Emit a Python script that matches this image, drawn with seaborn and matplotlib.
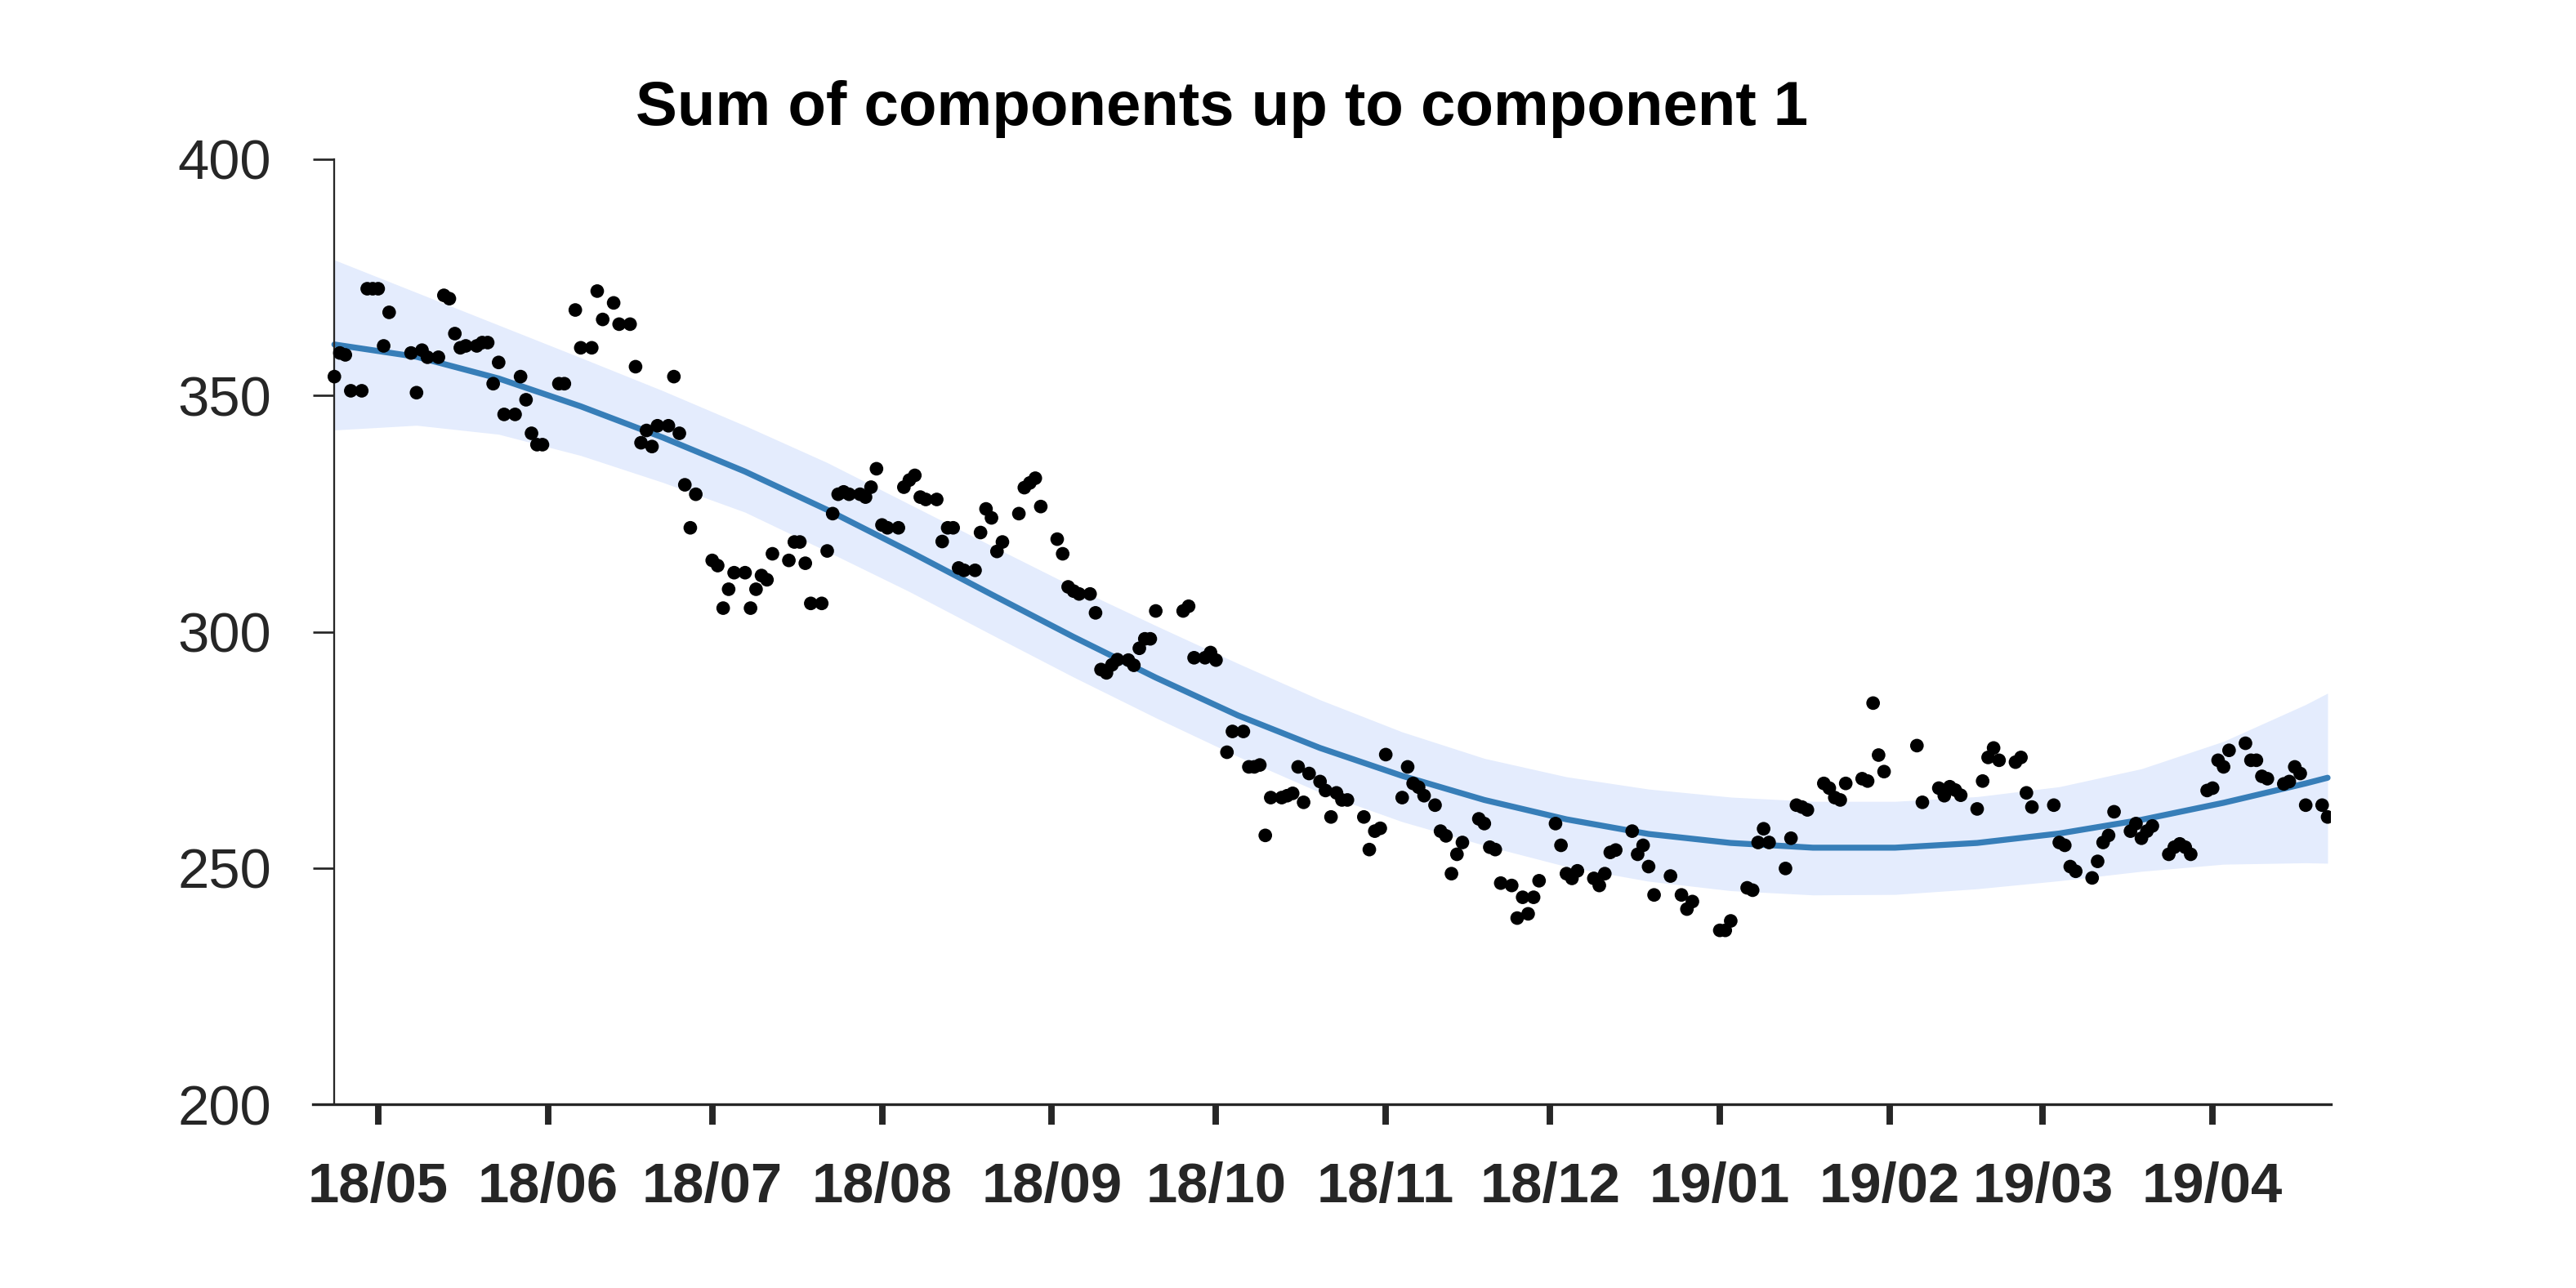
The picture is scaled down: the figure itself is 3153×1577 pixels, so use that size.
import numpy as np
import pandas as pd
import matplotlib
matplotlib.use("Agg")
import matplotlib.pyplot as plt
import matplotlib.dates as mdates
import seaborn as sns

# ---------------- data ----------------
START = "2018-04-23"
TITLE = "Sum of components up to component 1"

DAY_OFFSETS = [
    0, 1, 2, 3, 5, 6, 7, 8, 9, 10, 14, 15, 16, 17, 19, 20, 21, 22, 23, 24,
    26, 27, 28, 29, 30, 31, 33, 34, 35, 36, 37, 38, 41, 42, 44, 45, 47, 48, 49, 51,
    52, 54, 55, 56, 57, 58, 59, 61, 62, 63, 64, 65, 66, 69, 70, 71, 72, 73, 75, 76,
    77, 78, 79, 80, 83, 84, 85, 86, 87, 89, 90, 91, 92, 93, 94, 96, 97, 98, 99, 100,
    101, 103, 104, 105, 106, 107, 108, 110, 111, 112, 113, 114, 115, 117, 118, 119, 120, 121, 122, 125,
    126, 127, 128, 129, 132, 133, 134, 135, 136, 138, 139, 140, 141, 142, 143, 145, 146, 147, 148, 149,
    150, 155, 156, 157, 159, 160, 161, 163, 164, 166, 167, 168, 169, 170, 171, 173, 174, 175, 176, 177,
    178, 180, 181, 182, 183, 184, 185, 188, 189, 190, 191, 192, 195, 196, 197, 198, 199, 201, 202, 203,
    204, 205, 206, 209, 210, 211, 212, 213, 215, 216, 217, 218, 219, 220, 223, 224, 225, 226, 227, 230,
    231, 232, 233, 234, 237, 238, 239, 240, 241, 244, 246, 247, 248, 253, 254, 255, 258, 259, 260, 261,
    262, 265, 266, 267, 268, 269, 272, 273, 274, 275, 276, 279, 280, 281, 282, 283, 289, 290, 293, 294,
    295, 296, 297, 300, 301, 302, 303, 304, 307, 308, 309, 310, 314, 315, 316, 317, 318, 321, 322, 323,
    324, 325, 328, 329, 330, 331, 332, 335, 336, 337, 338, 339, 342, 343, 344, 345, 346, 349, 350, 351,
    352, 353, 356, 357, 358, 359, 360, 363, 364,
]
VALUES = [
    354.0, 359.0, 358.6, 351.0, 351.0, 372.6, 372.6, 372.6, 360.5, 367.6, 359.0, 350.6, 359.6, 358.1, 358.1, 371.2, 370.5, 363.1, 360.1, 360.5,
    360.5, 361.2, 361.2, 352.5, 357.0, 346.0, 346.0, 354.0, 349.1, 342.0, 339.6, 339.6, 352.5, 352.5, 368.1, 360.1, 360.1, 372.1, 366.1, 369.6,
    365.1, 365.1, 356.1, 340.0, 342.6, 339.2, 343.6, 343.6, 354.0, 342.0, 331.1, 322.0, 329.1, 315.1, 314.0, 305.0, 309.0, 312.5, 312.5, 305.0,
    309.0, 311.9, 311.0, 316.5, 315.1, 319.0, 319.0, 314.5, 306.0, 306.0, 317.1, 325.0, 329.1, 329.6, 329.1, 329.1, 328.5, 330.6, 334.5, 322.6,
    322.0, 322.0, 330.6, 332.1, 333.1, 328.5, 328.0, 328.0, 319.1, 322.0, 322.0, 313.5, 313.0, 313.0, 321.0, 326.0, 324.1, 317.0, 319.0, 325.0,
    330.5, 331.5, 332.5, 326.5, 319.6, 316.5, 309.5, 308.6, 308.0, 308.0, 304.0, 292.0, 291.3, 293.0, 294.1, 294.0, 292.9, 296.5, 298.5, 298.5,
    304.4, 304.4, 305.4, 294.5, 294.5, 295.6, 294.0, 274.5, 278.9, 278.9, 271.4, 271.4, 271.8, 256.9, 264.9, 264.9, 265.3, 265.8, 271.4, 263.9,
    270.0, 268.3, 266.4, 260.8, 265.9, 264.4, 264.4, 260.8, 253.9, 257.8, 258.4, 274.0, 264.9, 271.4, 267.9, 267.1, 265.3, 263.3, 257.8, 256.8,
    248.8, 252.9, 255.4, 260.4, 259.4, 254.4, 253.9, 246.8, 246.3, 239.4, 243.8, 240.3, 243.8, 247.3, 259.4, 254.8, 248.8, 247.8, 249.4, 247.8,
    246.3, 248.8, 253.3, 253.8, 257.8, 252.9, 254.8, 250.3, 244.3, 248.3, 244.3, 241.3, 242.9, 236.8, 236.8, 238.8, 245.8, 245.3, 255.4, 258.3,
    255.4, 249.9, 256.3, 263.3, 262.9, 262.3, 267.9, 266.9, 264.9, 264.4, 267.9, 268.9, 268.4, 284.9, 273.9, 270.4, 275.9, 263.9, 266.9, 265.3,
    267.2, 266.5, 265.4, 262.5, 268.4, 273.4, 275.4, 272.8, 272.4, 273.4, 265.9, 262.9, 263.3, 255.4, 254.8, 250.3, 249.3, 247.9, 251.4, 255.4,
    256.9, 261.9, 257.8, 259.4, 256.3, 257.8, 258.9, 252.9, 254.4, 255.1, 254.4, 252.9, 266.4, 266.9, 272.8, 271.4, 274.9, 276.4, 272.8, 272.8,
    269.4, 268.9, 267.8, 268.3, 271.4, 270.0, 263.3, 263.3, 260.8,
]

# smooth fitted component and its band, read at 15-day steps
FIT_DAYS = [0, 15, 30, 45, 60, 75, 90, 105, 120, 135, 150, 165, 180,
            195, 210, 225, 240, 255, 270, 285, 300, 315, 330, 345, 360, 364]
FIT_CENTER = [360.8, 358.2, 353.6, 347.7, 341.1, 333.9, 325.8, 317.0, 307.9,
              298.9, 290.3, 282.3, 275.4, 269.5, 264.4, 260.3, 257.2, 255.3,
              254.3, 254.3, 255.3, 257.3, 260.2, 263.8, 267.9, 269.1]
FIT_UPPER = [378.7, 371.8, 364.9, 358.0, 351.0, 343.6, 335.8, 327.0, 318.2,
             309.5, 301.3, 293.3, 285.6, 278.8, 273.2, 269.3, 266.7, 265.0,
             264.1, 264.1, 265.1, 267.2, 271.0, 276.8, 284.6, 287.0]
FIT_LOWER = [342.7, 343.7, 341.8, 337.3, 331.6, 325.3, 317.0, 308.5, 299.4,
             290.4, 281.8, 273.6, 266.0, 259.8, 254.8, 250.3, 247.2, 245.2,
             244.3, 244.4, 245.6, 247.3, 249.3, 250.8, 251.1, 251.0]

Y_TICKS = [200, 250, 300, 350, 400]
X_TICK_MONTHS = ["2018-05-01", "2018-06-01", "2018-07-01", "2018-08-01",
                 "2018-09-01", "2018-10-01", "2018-11-01", "2018-12-01",
                 "2019-01-01", "2019-02-01", "2019-03-01", "2019-04-01"]
X_TICK_LABELS = ["18/05", "18/06", "18/07", "18/08", "18/09", "18/10",
                 "18/11", "18/12", "19/01", "19/02", "19/03", "19/04"]

# ---------------- styling ----------------
sns.set_theme(style="white")
plt.rcParams["font.family"] = ["Liberation Sans", "DejaVu Sans"]
TXT = "#262626"

start = pd.Timestamp(START)
df = pd.DataFrame({"date": start + pd.to_timedelta(DAY_OFFSETS, unit="D"),
                   "value": VALUES})
fit = pd.DataFrame({"date": start + pd.to_timedelta(FIT_DAYS, unit="D"),
                    "center": FIT_CENTER, "lower": FIT_LOWER, "upper": FIT_UPPER})

W, H = 3153, 1577
fig = plt.figure(figsize=(W / 300, H / 300), dpi=300)
ax = fig.add_axes([383 / W, 1 - 1352 / H, 2470 / W, (1352 - 195) / H])

ax.fill_between(fit["date"], fit["lower"], fit["upper"], color="#e4ecfd",
                linewidth=0, zorder=1)
sns.lineplot(data=fit, x="date", y="center", ax=ax, color="#377eb8",
             linewidth=1.75, zorder=2)
sns.scatterplot(data=df, x="date", y="value", ax=ax, color="black", s=16,
                edgecolor="none", linewidth=0, zorder=3)

x0 = mdates.date2num(start)
ax.set_xlim(x0 - 3.92, x0 + 364.6)
ax.set_ylim(200, 400)

for s in ["top", "right"]:
    ax.spines[s].set_visible(False)
ax.spines["left"].set_position(("data", x0))
ax.spines["left"].set_bounds(200, 400)
ax.spines["left"].set_linewidth(0.55)
ax.spines["bottom"].set_linewidth(0.8)
ax.spines["left"].set_color(TXT)
ax.spines["bottom"].set_color(TXT)

ax.set_yticks(Y_TICKS)
ax.set_yticklabels([str(v) for v in Y_TICKS])
ax.set_xticks(pd.to_datetime(X_TICK_MONTHS))
ax.set_xticklabels(X_TICK_LABELS, fontweight="bold")

ax.tick_params(axis="y", direction="out", length=6.2, width=0.65, pad=12.3,
               labelsize=16.5, colors=TXT, left=True)
ax.tick_params(axis="x", direction="out", length=6.0, width=1.9, pad=10.8,
               labelsize=16.5, colors=TXT, bottom=True)
ax.set_xlabel("")
ax.set_ylabel("")
ax.grid(False)

fig.text(1496 / W, 1 - 153 / H, TITLE, ha="center", va="baseline",
         fontsize=18.3, fontweight="bold", color="black")

fig.savefig("out.png", dpi=300, facecolor="white")
